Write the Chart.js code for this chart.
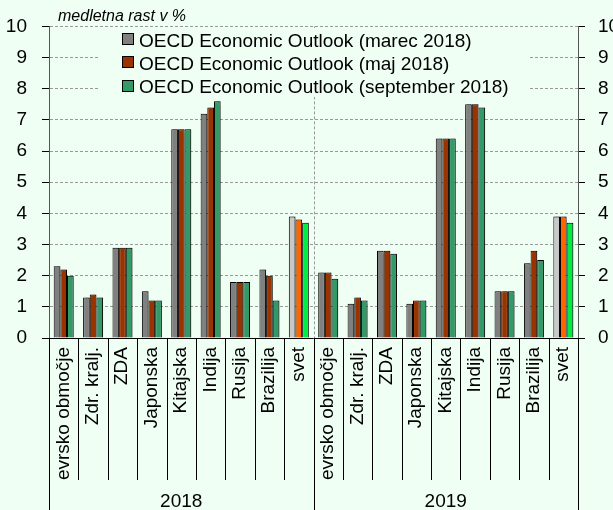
<!DOCTYPE html>
<html>
<head>
<meta charset="utf-8">
<script src="https://cdn.jsdelivr.net/npm/chart.js@4.4.1/dist/chart.umd.min.js"></script>
<style>
  html, body { margin: 0; padding: 0; background: #effff4; }
  canvas { display: block; }
</style>
</head>
<body>
<canvas id="rast" width="613" height="510"></canvas>
<script>
const years = ['2018', '2019'];
const countries = ['evrsko območje', 'Zdr. kralj.', 'ZDA', 'Japonska', 'Kitajska', 'Indija', 'Rusija', 'Brazilija', 'svet'];
const seriesNames = [
    'OECD Economic Outlook (marec 2018)',
    'OECD Economic Outlook (maj 2018)',
    'OECD Economic Outlook (september 2018)'
];
// 2018 first, then 2019, same country order
const marec     = [2.3, 1.3, 2.9, 1.5, 6.7, 7.2, 1.8, 2.2, 3.9,  2.1, 1.1, 2.8, 1.1, 6.4, 7.5, 1.5, 2.4, 3.9];
const maj       = [2.2, 1.4, 2.9, 1.2, 6.7, 7.4, 1.8, 2.0, 3.8,  2.1, 1.3, 2.8, 1.2, 6.4, 7.5, 1.5, 2.8, 3.9];
const september = [2.0, 1.3, 2.9, 1.2, 6.7, 7.6, 1.8, 1.2, 3.7,  1.9, 1.2, 2.7, 1.2, 6.4, 7.4, 1.5, 2.5, 3.7];
const yMin = 0, yMax = 10, yStep = 1;

const BG = '#effff4';
const baseColors = ['#808080', '#993300', '#339966'];
const worldColors = ['#c8c8c8', '#ff6600', '#00ee44'];

const labels = years.flatMap(() => countries);
const colorsFor = (i) => labels.map(l => l === 'svet' ? worldColors[i] : baseColors[i]);

const font = 'Arial, "Liberation Sans", sans-serif';

const decor = {
    id: 'decor',
    beforeDatasetsDraw(chart) {
        const { ctx, chartArea: a, scales: { x } } = chart;
        const mid = Math.round((x.getPixelForValue(8) + x.getPixelForValue(9)) / 2) + 0.5;
        ctx.save();
        // dashed divider between the two years
        ctx.strokeStyle = '#999';
        ctx.lineWidth = 1;
        ctx.setLineDash([3, 2]);
        ctx.beginPath();
        ctx.moveTo(mid, a.top);
        ctx.lineTo(mid, a.bottom);
        ctx.stroke();
        ctx.setLineDash([]);

        // legend sits on an opaque patch over the grid
        ctx.fillStyle = BG;
        ctx.fillRect(100, 28, 428, 69);
        ctx.font = '19px ' + font;
        ctx.textAlign = 'left';
        ctx.textBaseline = 'alphabetic';
        chart.data.datasets.forEach((ds, i) => {
            const base = 46.5 + i * 23.3;
            ctx.fillStyle = baseColors[i];
            ctx.fillRect(122, Math.round(base - 13.5), 11, 11);
            ctx.strokeStyle = '#000';
            ctx.strokeRect(122.5, Math.round(base - 13.5) + 0.5, 11, 11);
            ctx.fillStyle = '#000';
            ctx.fillText(ds.label, 139, base);
        });
        ctx.restore();

        // soft drop shadow under the bars
        ctx.save();
        ctx.shadowColor = 'rgba(0,0,0,0.25)';
        ctx.shadowOffsetX = 2;
        ctx.shadowOffsetY = 0;
        ctx.shadowBlur = 1;
    },
    afterDatasetsDraw(chart) {
        chart.ctx.restore();
    },
    afterDraw(chart) {
        const { ctx, chartArea: a, scales: { x } } = chart;
        const n = labels.length;
        const step = (a.right - a.left) / n;
        ctx.save();
        ctx.strokeStyle = '#000';
        ctx.lineWidth = 1;

        // category separators, long ones at the year edges
        for (let i = 0; i <= n; i++) {
            const px = Math.round(a.left + i * step) + 0.5;
            const edge = i % countries.length === 0;
            ctx.beginPath();
            ctx.moveTo(px, a.bottom);
            ctx.lineTo(px, edge ? 510 : 480);
            ctx.stroke();
        }
        ctx.beginPath();
        ctx.moveTo(a.left, Math.round(a.bottom) + 0.5);
        ctx.lineTo(a.right, Math.round(a.bottom) + 0.5);
        ctx.stroke();

        // rotated country names
        ctx.fillStyle = '#000';
        ctx.font = '19px ' + font;
        labels.forEach((lab, i) => {
            const cx = x.getPixelForValue(i);
            ctx.save();
            ctx.translate(cx + 5, a.bottom + 9);
            ctx.rotate(-Math.PI / 2);
            ctx.textAlign = 'right';
            ctx.textBaseline = 'alphabetic';
            ctx.fillText(lab, 0, 0);
            ctx.restore();
        });

        // year captions
        ctx.textAlign = 'center';
        ctx.textBaseline = 'alphabetic';
        years.forEach((yr, k) => {
            const l = a.left + k * countries.length * step;
            const r = l + countries.length * step;
            ctx.fillText(yr, (l + r) / 2, 507);
        });

        // unit note
        ctx.font = 'italic 16px ' + font;
        ctx.textAlign = 'left';
        ctx.fillText('medletna rast v %', 58, 21);
        ctx.restore();
    }
};

const yTicks = {
    color: '#000',
    font: { size: 19, family: font },
    stepSize: yStep
};

new Chart(document.getElementById('rast').getContext('2d'), {
    type: 'bar',
    data: {
        labels: labels,
        datasets: [marec, maj, september].map((vals, i) => ({
            label: seriesNames[i],
            data: vals,
            backgroundColor: colorsFor(i),
            borderColor: '#000',
            borderWidth: 1,
            borderSkipped: 'bottom',
            barPercentage: 1,
            categoryPercentage: 0.68,
            yAxisID: 'y'
        }))
    },
    options: {
        responsive: false,
        animation: false,
        layout: { padding: { top: 25, bottom: 172, left: 0, right: 0 } },
        scales: {
            x: { display: false },
            y: {
                position: 'left',
                min: yMin,
                max: yMax,
                ticks: { ...yTicks, padding: 15 },
                grid: { color: '#999', tickColor: '#000', tickLength: 7, lineWidth: 1 },
                border: { color: '#555', dash: [3, 2] },
                afterFit(s) { s.width = 49; }
            },
            y2: {
                position: 'right',
                min: yMin,
                max: yMax,
                ticks: { ...yTicks, padding: 13 },
                grid: { drawOnChartArea: false, tickColor: '#000', tickLength: 7 },
                border: { color: '#555' },
                afterFit(s) { s.width = 35; }
            }
        },
        plugins: {
            legend: { display: false },
            tooltip: { enabled: false }
        }
    },
    plugins: [decor]
});
</script>
</body>
</html>
